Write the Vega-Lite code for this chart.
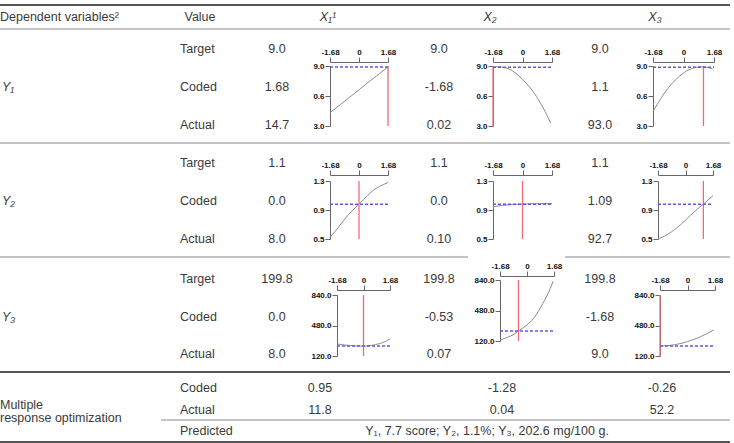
{
  "$schema": "https://vega.github.io/schema/vega-lite/v6.json",
  "width": 734,
  "height": 443,
  "padding": 0,
  "autosize": {"type": "none"},
  "background": "white",
  "config": {
    "view": {"stroke": null},
    "axis": {
      "grid": false,
      "labelFont": "Liberation Sans",
      "labelFontWeight": "bold",
      "labelFontSize": 8,
      "labelColor": "#111111",
      "tickColor": "#666666",
      "domainColor": "#666666",
      "tickSize": 5,
      "labelPadding": 1,
      "labelFlush": false,
      "labelOverlap": false
    },
    "text": {"font": "Liberation Sans", "fontSize": 12.5, "color": "#3a3a3a"}
  },
  "datasets": {
    "rules": [
      {"row": 0, "from": 0, "to": 16, "kind": "border"},
      {"row": 2, "from": 0, "to": 16, "kind": "separator"},
      {"row": 6, "from": 0, "to": 16, "kind": "separator"},
      {"row": 10, "from": 0, "to": 8, "kind": "separator"},
      {"row": 10, "from": 12, "to": 16, "kind": "separator"},
      {"row": 14, "from": 0, "to": 16, "kind": "border"},
      {"row": 17, "from": 1, "to": 16, "kind": "separator"},
      {"row": 19, "from": 0, "to": 16, "kind": "border"}
    ],
    "labelsLeft": [
      {"row": 1, "col": 0, "text": "Dependent variables²"},
      {"row": 3, "col": 2, "text": "Target"},
      {"row": 4, "col": 2, "text": "Coded"},
      {"row": 5, "col": 2, "text": "Actual"},
      {"row": 7, "col": 2, "text": "Target"},
      {"row": 8, "col": 2, "text": "Coded"},
      {"row": 9, "col": 2, "text": "Actual"},
      {"row": 11, "col": 2, "text": "Target"},
      {"row": 12, "col": 2, "text": "Coded"},
      {"row": 13, "col": 2, "text": "Actual"},
      {"row": 15, "col": 2, "text": "Coded"},
      {"row": 16, "col": 2, "text": "Actual"},
      {"row": 18, "col": 2, "text": "Predicted"}
    ],
    "blockLabels": [
      {"row": 16, "col": 0, "text": "Multiple\nresponse optimization"}
    ],
    "responses": [
      {"row": 4, "col": 0, "text": "Y₁"},
      {"row": 8, "col": 0, "text": "Y₂"},
      {"row": 12, "col": 0, "text": "Y₃"}
    ],
    "factors": [
      {"row": 1, "col": 6, "text": "X₁¹"},
      {"row": 1, "col": 10, "text": "X₂"},
      {"row": 1, "col": 14, "text": "X₃"}
    ],
    "cells": [
      {"row": 1, "col": 3, "text": "Value"},
      {"row": 3, "col": 4, "text": "9.0"},
      {"row": 3, "col": 7, "text": "9.0"},
      {"row": 3, "col": 13, "text": "9.0"},
      {"row": 4, "col": 4, "text": "1.68"},
      {"row": 4, "col": 7, "text": "-1.68"},
      {"row": 4, "col": 13, "text": "1.1"},
      {"row": 5, "col": 4, "text": "14.7"},
      {"row": 5, "col": 7, "text": "0.02"},
      {"row": 5, "col": 13, "text": "93.0"},
      {"row": 7, "col": 4, "text": "1.1"},
      {"row": 7, "col": 7, "text": "1.1"},
      {"row": 7, "col": 13, "text": "1.1"},
      {"row": 8, "col": 4, "text": "0.0"},
      {"row": 8, "col": 7, "text": "0.0"},
      {"row": 8, "col": 13, "text": "1.09"},
      {"row": 9, "col": 4, "text": "8.0"},
      {"row": 9, "col": 7, "text": "0.10"},
      {"row": 9, "col": 13, "text": "92.7"},
      {"row": 11, "col": 4, "text": "199.8"},
      {"row": 11, "col": 7, "text": "199.8"},
      {"row": 11, "col": 13, "text": "199.8"},
      {"row": 12, "col": 4, "text": "0.0"},
      {"row": 12, "col": 7, "text": "-0.53"},
      {"row": 12, "col": 13, "text": "-1.68"},
      {"row": 13, "col": 4, "text": "8.0"},
      {"row": 13, "col": 7, "text": "0.07"},
      {"row": 13, "col": 13, "text": "9.0"},
      {"row": 15, "col": 5, "text": "0.95"},
      {"row": 15, "col": 11, "text": "-1.28"},
      {"row": 15, "col": 15, "text": "-0.26"},
      {"row": 16, "col": 5, "text": "11.8"},
      {"row": 16, "col": 11, "text": "0.04"},
      {"row": 16, "col": 15, "text": "52.2"},
      {"row": 18, "col": 9, "text": "Y₁, 7.7 score; Y₂, 1.1%; Y₃, 202.6 mg/100 g."}
    ],
    "curves": [
      {"response": "Y1", "factor": "X1", "series": "curve", "x": -1.68, "y": 4.33},
      {"response": "Y1", "factor": "X1", "series": "curve", "x": -1.2, "y": 4.98},
      {"response": "Y1", "factor": "X1", "series": "curve", "x": -0.6, "y": 5.8},
      {"response": "Y1", "factor": "X1", "series": "curve", "x": 0, "y": 6.62},
      {"response": "Y1", "factor": "X1", "series": "curve", "x": 0.6, "y": 7.45},
      {"response": "Y1", "factor": "X1", "series": "curve", "x": 1.2, "y": 8.25},
      {"response": "Y1", "factor": "X1", "series": "curve", "x": 1.68, "y": 8.9},
      {"response": "Y1", "factor": "X1", "series": "coded", "x": 1.68, "y": 3},
      {"response": "Y1", "factor": "X1", "series": "coded", "x": 1.68, "y": 9},
      {"response": "Y1", "factor": "X1", "series": "predicted", "x": -1.68, "y": 8.9},
      {"response": "Y1", "factor": "X1", "series": "predicted", "x": 1.68, "y": 8.9},

      {"response": "Y1", "factor": "X2", "series": "curve", "x": -1.68, "y": 8.88},
      {"response": "Y1", "factor": "X2", "series": "curve", "x": -1.4, "y": 8.93},
      {"response": "Y1", "factor": "X2", "series": "curve", "x": -1.0, "y": 8.83},
      {"response": "Y1", "factor": "X2", "series": "curve", "x": -0.6, "y": 8.55},
      {"response": "Y1", "factor": "X2", "series": "curve", "x": -0.2, "y": 8.0},
      {"response": "Y1", "factor": "X2", "series": "curve", "x": 0.2, "y": 7.3},
      {"response": "Y1", "factor": "X2", "series": "curve", "x": 0.6, "y": 6.45},
      {"response": "Y1", "factor": "X2", "series": "curve", "x": 1.0, "y": 5.36},
      {"response": "Y1", "factor": "X2", "series": "curve", "x": 1.3, "y": 4.41},
      {"response": "Y1", "factor": "X2", "series": "curve", "x": 1.6, "y": 3.3},
      {"response": "Y1", "factor": "X2", "series": "coded", "x": -1.68, "y": 3},
      {"response": "Y1", "factor": "X2", "series": "coded", "x": -1.68, "y": 9},
      {"response": "Y1", "factor": "X2", "series": "predicted", "x": -1.68, "y": 8.88},
      {"response": "Y1", "factor": "X2", "series": "predicted", "x": 1.68, "y": 8.88},

      {"response": "Y1", "factor": "X3", "series": "curve", "x": -1.68, "y": 4.45},
      {"response": "Y1", "factor": "X3", "series": "curve", "x": -1.2, "y": 5.88},
      {"response": "Y1", "factor": "X3", "series": "curve", "x": -0.7, "y": 7.11},
      {"response": "Y1", "factor": "X3", "series": "curve", "x": -0.2, "y": 8.02},
      {"response": "Y1", "factor": "X3", "series": "curve", "x": 0.3, "y": 8.62},
      {"response": "Y1", "factor": "X3", "series": "curve", "x": 0.7, "y": 8.87},
      {"response": "Y1", "factor": "X3", "series": "curve", "x": 1.0, "y": 8.93},
      {"response": "Y1", "factor": "X3", "series": "curve", "x": 1.3, "y": 8.87},
      {"response": "Y1", "factor": "X3", "series": "curve", "x": 1.6, "y": 8.7},
      {"response": "Y1", "factor": "X3", "series": "coded", "x": 1.1, "y": 3},
      {"response": "Y1", "factor": "X3", "series": "coded", "x": 1.1, "y": 9},
      {"response": "Y1", "factor": "X3", "series": "predicted", "x": -1.68, "y": 8.88},
      {"response": "Y1", "factor": "X3", "series": "predicted", "x": 1.68, "y": 8.88},

      {"response": "Y2", "factor": "X1", "series": "curve", "x": -1.68, "y": 0.52},
      {"response": "Y2", "factor": "X1", "series": "curve", "x": -1.2, "y": 0.66},
      {"response": "Y2", "factor": "X1", "series": "curve", "x": -0.6, "y": 0.84},
      {"response": "Y2", "factor": "X1", "series": "curve", "x": 0, "y": 0.98},
      {"response": "Y2", "factor": "X1", "series": "curve", "x": 0.5, "y": 1.1},
      {"response": "Y2", "factor": "X1", "series": "curve", "x": 1.0, "y": 1.2},
      {"response": "Y2", "factor": "X1", "series": "curve", "x": 1.4, "y": 1.25},
      {"response": "Y2", "factor": "X1", "series": "curve", "x": 1.68, "y": 1.28},
      {"response": "Y2", "factor": "X1", "series": "coded", "x": 0, "y": 0.5},
      {"response": "Y2", "factor": "X1", "series": "coded", "x": 0, "y": 1.3},
      {"response": "Y2", "factor": "X1", "series": "predicted", "x": -1.68, "y": 0.98},
      {"response": "Y2", "factor": "X1", "series": "predicted", "x": 1.68, "y": 0.98},

      {"response": "Y2", "factor": "X2", "series": "curve", "x": -1.68, "y": 0.945},
      {"response": "Y2", "factor": "X2", "series": "curve", "x": -1.2, "y": 0.962},
      {"response": "Y2", "factor": "X2", "series": "curve", "x": -0.6, "y": 0.975},
      {"response": "Y2", "factor": "X2", "series": "curve", "x": 0, "y": 0.982},
      {"response": "Y2", "factor": "X2", "series": "curve", "x": 0.6, "y": 0.986},
      {"response": "Y2", "factor": "X2", "series": "curve", "x": 1.2, "y": 0.988},
      {"response": "Y2", "factor": "X2", "series": "curve", "x": 1.68, "y": 0.988},
      {"response": "Y2", "factor": "X2", "series": "coded", "x": 0, "y": 0.5},
      {"response": "Y2", "factor": "X2", "series": "coded", "x": 0, "y": 1.3},
      {"response": "Y2", "factor": "X2", "series": "predicted", "x": -1.68, "y": 0.98},
      {"response": "Y2", "factor": "X2", "series": "predicted", "x": 1.68, "y": 0.98},

      {"response": "Y2", "factor": "X3", "series": "curve", "x": -1.68, "y": 0.5},
      {"response": "Y2", "factor": "X3", "series": "curve", "x": -1.2, "y": 0.55},
      {"response": "Y2", "factor": "X3", "series": "curve", "x": -0.6, "y": 0.64},
      {"response": "Y2", "factor": "X3", "series": "curve", "x": 0, "y": 0.76},
      {"response": "Y2", "factor": "X3", "series": "curve", "x": 0.6, "y": 0.89},
      {"response": "Y2", "factor": "X3", "series": "curve", "x": 1.09, "y": 0.98},
      {"response": "Y2", "factor": "X3", "series": "curve", "x": 1.68, "y": 1.1},
      {"response": "Y2", "factor": "X3", "series": "coded", "x": 1.09, "y": 0.5},
      {"response": "Y2", "factor": "X3", "series": "coded", "x": 1.09, "y": 1.3},
      {"response": "Y2", "factor": "X3", "series": "predicted", "x": -1.68, "y": 0.98},
      {"response": "Y2", "factor": "X3", "series": "predicted", "x": 1.68, "y": 0.98},

      {"response": "Y3", "factor": "X1", "series": "curve", "x": -1.68, "y": 262},
      {"response": "Y3", "factor": "X1", "series": "curve", "x": -1.2, "y": 250},
      {"response": "Y3", "factor": "X1", "series": "curve", "x": -0.6, "y": 240},
      {"response": "Y3", "factor": "X1", "series": "curve", "x": 0, "y": 236},
      {"response": "Y3", "factor": "X1", "series": "curve", "x": 0.5, "y": 245},
      {"response": "Y3", "factor": "X1", "series": "curve", "x": 1.0, "y": 266},
      {"response": "Y3", "factor": "X1", "series": "curve", "x": 1.4, "y": 292},
      {"response": "Y3", "factor": "X1", "series": "curve", "x": 1.68, "y": 321},
      {"response": "Y3", "factor": "X1", "series": "coded", "x": 0, "y": 120},
      {"response": "Y3", "factor": "X1", "series": "coded", "x": 0, "y": 840},
      {"response": "Y3", "factor": "X1", "series": "predicted", "x": -1.68, "y": 238},
      {"response": "Y3", "factor": "X1", "series": "predicted", "x": 1.68, "y": 238},

      {"response": "Y3", "factor": "X2", "series": "curve", "x": -1.68, "y": 130},
      {"response": "Y3", "factor": "X2", "series": "curve", "x": -1.2, "y": 165},
      {"response": "Y3", "factor": "X2", "series": "curve", "x": -0.85, "y": 195},
      {"response": "Y3", "factor": "X2", "series": "curve", "x": -0.53, "y": 238},
      {"response": "Y3", "factor": "X2", "series": "curve", "x": 0, "y": 310},
      {"response": "Y3", "factor": "X2", "series": "curve", "x": 0.4, "y": 385},
      {"response": "Y3", "factor": "X2", "series": "curve", "x": 0.8, "y": 500},
      {"response": "Y3", "factor": "X2", "series": "curve", "x": 1.2, "y": 640},
      {"response": "Y3", "factor": "X2", "series": "curve", "x": 1.45, "y": 740},
      {"response": "Y3", "factor": "X2", "series": "curve", "x": 1.62, "y": 825},
      {"response": "Y3", "factor": "X2", "series": "coded", "x": -0.53, "y": 120},
      {"response": "Y3", "factor": "X2", "series": "coded", "x": -0.53, "y": 840},
      {"response": "Y3", "factor": "X2", "series": "predicted", "x": -1.68, "y": 238},
      {"response": "Y3", "factor": "X2", "series": "predicted", "x": 1.68, "y": 238},

      {"response": "Y3", "factor": "X3", "series": "curve", "x": -1.68, "y": 238},
      {"response": "Y3", "factor": "X3", "series": "curve", "x": -1.2, "y": 243},
      {"response": "Y3", "factor": "X3", "series": "curve", "x": -0.8, "y": 252},
      {"response": "Y3", "factor": "X3", "series": "curve", "x": -0.4, "y": 268},
      {"response": "Y3", "factor": "X3", "series": "curve", "x": 0, "y": 290},
      {"response": "Y3", "factor": "X3", "series": "curve", "x": 0.4, "y": 316},
      {"response": "Y3", "factor": "X3", "series": "curve", "x": 0.8, "y": 348},
      {"response": "Y3", "factor": "X3", "series": "curve", "x": 1.2, "y": 385},
      {"response": "Y3", "factor": "X3", "series": "curve", "x": 1.6, "y": 427},
      {"response": "Y3", "factor": "X3", "series": "coded", "x": -1.68, "y": 120},
      {"response": "Y3", "factor": "X3", "series": "coded", "x": -1.68, "y": 840},
      {"response": "Y3", "factor": "X3", "series": "predicted", "x": -1.68, "y": 238},
      {"response": "Y3", "factor": "X3", "series": "predicted", "x": 1.68, "y": 238}
    ]
  },
  "resolve": {"scale": {"x": "independent", "y": "independent"}},
  "layer": [
    {
      "data": {"name": "rules"},
      "transform": [{"filter": "datum.kind == 'border'"}],
      "mark": {"type": "rule", "color": "#555555", "strokeWidth": 2},
      "encoding": {
        "x": {"field": "from", "type": "quantitative", "axis": null,
              "scale": {"domain": [0,1,2,3,4,5,6,7,8,9,10,11,12,13,14,15,16], "range": [0,161,180,200,277,320,328,439,468,487,490,502,565,600,655,662,730], "nice": false, "zero": false}},
        "x2": {"field": "to"},
        "y": {"field": "row", "type": "quantitative", "axis": null,
              "scale": {"domain": [0,1,2,3,4,5,6,7,8,9,10,11,12,13,14,15,16,17,18,19], "range": [5,17,29,49,87,125,143,163,201,239,257,279,317,354,372,388,410,420,431,442], "nice": false, "zero": false}}
      }
    },
    {
      "data": {"name": "rules"},
      "transform": [{"filter": "datum.kind == 'separator'"}],
      "mark": {"type": "rule", "color": "#8a8a8a", "strokeWidth": 1},
      "encoding": {
        "x": {"field": "from", "type": "quantitative", "axis": null,
              "scale": {"domain": [0,1,2,3,4,5,6,7,8,9,10,11,12,13,14,15,16], "range": [0,161,180,200,277,320,328,439,468,487,490,502,565,600,655,662,730], "nice": false, "zero": false}},
        "x2": {"field": "to"},
        "y": {"field": "row", "type": "quantitative", "axis": null,
              "scale": {"domain": [0,1,2,3,4,5,6,7,8,9,10,11,12,13,14,15,16,17,18,19], "range": [5,17,29,49,87,125,143,163,201,239,257,279,317,354,372,388,410,420,431,442], "nice": false, "zero": false}}
      }
    },
    {
      "data": {"name": "labelsLeft"},
      "mark": {"type": "text", "align": "left", "baseline": "middle"},
      "encoding": {
        "x": {"field": "col", "type": "quantitative", "axis": null,
              "scale": {"domain": [0,1,2,3,4,5,6,7,8,9,10,11,12,13,14,15,16], "range": [0,161,180,200,277,320,328,439,468,487,490,502,565,600,655,662,730], "nice": false, "zero": false}},
        "y": {"field": "row", "type": "quantitative", "axis": null,
              "scale": {"domain": [0,1,2,3,4,5,6,7,8,9,10,11,12,13,14,15,16,17,18,19], "range": [5,17,29,49,87,125,143,163,201,239,257,279,317,354,372,388,410,420,431,442], "nice": false, "zero": false}},
        "text": {"field": "text", "type": "nominal"}
      }
    },
    {
      "data": {"name": "blockLabels"},
      "mark": {"type": "text", "align": "left", "baseline": "middle", "lineBreak": "\n", "lineHeight": 13, "dy": -5},
      "encoding": {
        "x": {"field": "col", "type": "quantitative", "axis": null,
              "scale": {"domain": [0,1,2,3,4,5,6,7,8,9,10,11,12,13,14,15,16], "range": [0,161,180,200,277,320,328,439,468,487,490,502,565,600,655,662,730], "nice": false, "zero": false}},
        "y": {"field": "row", "type": "quantitative", "axis": null,
              "scale": {"domain": [0,1,2,3,4,5,6,7,8,9,10,11,12,13,14,15,16,17,18,19], "range": [5,17,29,49,87,125,143,163,201,239,257,279,317,354,372,388,410,420,431,442], "nice": false, "zero": false}},
        "text": {"field": "text", "type": "nominal"}
      }
    },
    {
      "data": {"name": "responses"},
      "mark": {"type": "text", "align": "left", "baseline": "middle", "fontStyle": "italic", "dx": 2},
      "encoding": {
        "x": {"field": "col", "type": "quantitative", "axis": null,
              "scale": {"domain": [0,1,2,3,4,5,6,7,8,9,10,11,12,13,14,15,16], "range": [0,161,180,200,277,320,328,439,468,487,490,502,565,600,655,662,730], "nice": false, "zero": false}},
        "y": {"field": "row", "type": "quantitative", "axis": null,
              "scale": {"domain": [0,1,2,3,4,5,6,7,8,9,10,11,12,13,14,15,16,17,18,19], "range": [5,17,29,49,87,125,143,163,201,239,257,279,317,354,372,388,410,420,431,442], "nice": false, "zero": false}},
        "text": {"field": "text", "type": "nominal"}
      }
    },
    {
      "data": {"name": "cells"},
      "mark": {"type": "text", "align": "center", "baseline": "middle"},
      "encoding": {
        "x": {"field": "col", "type": "quantitative", "axis": null,
              "scale": {"domain": [0,1,2,3,4,5,6,7,8,9,10,11,12,13,14,15,16], "range": [0,161,180,200,277,320,328,439,468,487,490,502,565,600,655,662,730], "nice": false, "zero": false}},
        "y": {"field": "row", "type": "quantitative", "axis": null,
              "scale": {"domain": [0,1,2,3,4,5,6,7,8,9,10,11,12,13,14,15,16,17,18,19], "range": [5,17,29,49,87,125,143,163,201,239,257,279,317,354,372,388,410,420,431,442], "nice": false, "zero": false}},
        "text": {"field": "text", "type": "nominal"}
      }
    },
    {
      "data": {"name": "factors"},
      "mark": {"type": "text", "align": "center", "baseline": "middle", "fontStyle": "italic"},
      "encoding": {
        "x": {"field": "col", "type": "quantitative", "axis": null,
              "scale": {"domain": [0,1,2,3,4,5,6,7,8,9,10,11,12,13,14,15,16], "range": [0,161,180,200,277,320,328,439,468,487,490,502,565,600,655,662,730], "nice": false, "zero": false}},
        "y": {"field": "row", "type": "quantitative", "axis": null,
              "scale": {"domain": [0,1,2,3,4,5,6,7,8,9,10,11,12,13,14,15,16,17,18,19], "range": [5,17,29,49,87,125,143,163,201,239,257,279,317,354,372,388,410,420,431,442], "nice": false, "zero": false}},
        "text": {"field": "text", "type": "nominal"}
      }
    },
    {
      "data": {"name": "curves"},
      "transform": [{"filter": "datum.response == 'Y1' && datum.factor == 'X1'"}],
      "mark": {"type": "line", "interpolate": "monotone"},
      "encoding": {
        "x": {"field": "x", "type": "quantitative", "scale": {"domain": [-1.68, 1.68], "range": [330, 388], "nice": false, "zero": false},
              "axis": {"orient": "top", "offset": -62, "values": [-1.68, 0, 1.68], "format": ".2~f", "labelExpr": "replace(datum.label, '−', '-')", "title": null}},
        "y": {"field": "y", "type": "quantitative", "scale": {"domain": [3, 9], "range": [126, 66], "nice": false, "zero": false},
              "axis": {"orient": "left", "offset": -330, "values": [3, 6, 9], "format": ".1f", "labelExpr": "datum.value == 6 ? '0.6' : datum.label", "title": null}},
        "color": {"field": "series", "type": "nominal", "legend": null, "scale": {"domain": ["curve", "coded", "predicted"], "range": ["#8c8c8c", "#f26b73", "#5a5ae8"]}},
        "strokeWidth": {"field": "series", "type": "nominal", "legend": null, "scale": {"domain": ["curve", "coded", "predicted"], "range": [1, 1.6, 1]}},
        "strokeDash": {"field": "series", "type": "nominal", "legend": null, "scale": {"domain": ["curve", "coded", "predicted"], "range": [[100, 0], [100, 0], [3, 2]]}}
      }
    },
    {
      "data": {"name": "curves"},
      "transform": [{"filter": "datum.response == 'Y1' && datum.factor == 'X2'"}],
      "mark": {"type": "line", "interpolate": "monotone"},
      "encoding": {
        "x": {"field": "x", "type": "quantitative", "scale": {"domain": [-1.68, 1.68], "range": [493, 552], "nice": false, "zero": false},
              "axis": {"orient": "top", "offset": -62, "values": [-1.68, 0, 1.68], "format": ".2~f", "labelExpr": "replace(datum.label, '−', '-')", "title": null}},
        "y": {"field": "y", "type": "quantitative", "scale": {"domain": [3, 9], "range": [126, 66], "nice": false, "zero": false},
              "axis": {"orient": "left", "offset": -493, "values": [3, 6, 9], "format": ".1f", "labelExpr": "datum.value == 6 ? '0.6' : datum.label", "title": null}},
        "color": {"field": "series", "type": "nominal", "legend": null, "scale": {"domain": ["curve", "coded", "predicted"], "range": ["#8c8c8c", "#f26b73", "#5a5ae8"]}},
        "strokeWidth": {"field": "series", "type": "nominal", "legend": null, "scale": {"domain": ["curve", "coded", "predicted"], "range": [1, 1.6, 1]}},
        "strokeDash": {"field": "series", "type": "nominal", "legend": null, "scale": {"domain": ["curve", "coded", "predicted"], "range": [[100, 0], [100, 0], [3, 2]]}}
      }
    },
    {
      "data": {"name": "curves"},
      "transform": [{"filter": "datum.response == 'Y1' && datum.factor == 'X3'"}],
      "mark": {"type": "line", "interpolate": "monotone"},
      "encoding": {
        "x": {"field": "x", "type": "quantitative", "scale": {"domain": [-1.68, 1.68], "range": [653, 714], "nice": false, "zero": false},
              "axis": {"orient": "top", "offset": -62, "values": [-1.68, 0, 1.68], "format": ".2~f", "labelExpr": "replace(datum.label, '−', '-')", "title": null}},
        "y": {"field": "y", "type": "quantitative", "scale": {"domain": [3, 9], "range": [126, 66], "nice": false, "zero": false},
              "axis": {"orient": "left", "offset": -653, "values": [3, 6, 9], "format": ".1f", "labelExpr": "datum.value == 6 ? '0.6' : datum.label", "title": null}},
        "color": {"field": "series", "type": "nominal", "legend": null, "scale": {"domain": ["curve", "coded", "predicted"], "range": ["#8c8c8c", "#f26b73", "#5a5ae8"]}},
        "strokeWidth": {"field": "series", "type": "nominal", "legend": null, "scale": {"domain": ["curve", "coded", "predicted"], "range": [1, 1.6, 1]}},
        "strokeDash": {"field": "series", "type": "nominal", "legend": null, "scale": {"domain": ["curve", "coded", "predicted"], "range": [[100, 0], [100, 0], [3, 2]]}}
      }
    },
    {
      "data": {"name": "curves"},
      "transform": [{"filter": "datum.response == 'Y2' && datum.factor == 'X1'"}],
      "mark": {"type": "line", "interpolate": "monotone"},
      "encoding": {
        "x": {"field": "x", "type": "quantitative", "scale": {"domain": [-1.68, 1.68], "range": [330, 388], "nice": false, "zero": false},
              "axis": {"orient": "top", "offset": -175, "values": [-1.68, 0, 1.68], "format": ".2~f", "labelExpr": "replace(datum.label, '−', '-')", "title": null}},
        "y": {"field": "y", "type": "quantitative", "scale": {"domain": [0.5, 1.3], "range": [239, 181], "nice": false, "zero": false},
              "axis": {"orient": "left", "offset": -330, "values": [0.5, 0.9, 1.3], "format": ".1f", "title": null}},
        "color": {"field": "series", "type": "nominal", "legend": null, "scale": {"domain": ["curve", "coded", "predicted"], "range": ["#8c8c8c", "#f26b73", "#5a5ae8"]}},
        "strokeWidth": {"field": "series", "type": "nominal", "legend": null, "scale": {"domain": ["curve", "coded", "predicted"], "range": [1, 1.6, 1]}},
        "strokeDash": {"field": "series", "type": "nominal", "legend": null, "scale": {"domain": ["curve", "coded", "predicted"], "range": [[100, 0], [100, 0], [3, 2]]}}
      }
    },
    {
      "data": {"name": "curves"},
      "transform": [{"filter": "datum.response == 'Y2' && datum.factor == 'X2'"}],
      "mark": {"type": "line", "interpolate": "monotone"},
      "encoding": {
        "x": {"field": "x", "type": "quantitative", "scale": {"domain": [-1.68, 1.68], "range": [493, 552], "nice": false, "zero": false},
              "axis": {"orient": "top", "offset": -175, "values": [-1.68, 0, 1.68], "format": ".2~f", "labelExpr": "replace(datum.label, '−', '-')", "title": null}},
        "y": {"field": "y", "type": "quantitative", "scale": {"domain": [0.5, 1.3], "range": [239, 181], "nice": false, "zero": false},
              "axis": {"orient": "left", "offset": -493, "values": [0.5, 0.9, 1.3], "format": ".1f", "title": null}},
        "color": {"field": "series", "type": "nominal", "legend": null, "scale": {"domain": ["curve", "coded", "predicted"], "range": ["#8c8c8c", "#f26b73", "#5a5ae8"]}},
        "strokeWidth": {"field": "series", "type": "nominal", "legend": null, "scale": {"domain": ["curve", "coded", "predicted"], "range": [1, 1.6, 1]}},
        "strokeDash": {"field": "series", "type": "nominal", "legend": null, "scale": {"domain": ["curve", "coded", "predicted"], "range": [[100, 0], [100, 0], [3, 2]]}}
      }
    },
    {
      "data": {"name": "curves"},
      "transform": [{"filter": "datum.response == 'Y2' && datum.factor == 'X3'"}],
      "mark": {"type": "line", "interpolate": "monotone"},
      "encoding": {
        "x": {"field": "x", "type": "quantitative", "scale": {"domain": [-1.68, 1.68], "range": [658, 713], "nice": false, "zero": false},
              "axis": {"orient": "top", "offset": -175, "values": [-1.68, 0, 1.68], "format": ".2~f", "labelExpr": "replace(datum.label, '−', '-')", "title": null}},
        "y": {"field": "y", "type": "quantitative", "scale": {"domain": [0.5, 1.3], "range": [239, 181], "nice": false, "zero": false},
              "axis": {"orient": "left", "offset": -658, "values": [0.5, 0.9, 1.3], "format": ".1f", "title": null}},
        "color": {"field": "series", "type": "nominal", "legend": null, "scale": {"domain": ["curve", "coded", "predicted"], "range": ["#8c8c8c", "#f26b73", "#5a5ae8"]}},
        "strokeWidth": {"field": "series", "type": "nominal", "legend": null, "scale": {"domain": ["curve", "coded", "predicted"], "range": [1, 1.6, 1]}},
        "strokeDash": {"field": "series", "type": "nominal", "legend": null, "scale": {"domain": ["curve", "coded", "predicted"], "range": [[100, 0], [100, 0], [3, 2]]}}
      }
    },
    {
      "data": {"name": "curves"},
      "transform": [{"filter": "datum.response == 'Y3' && datum.factor == 'X1'"}],
      "mark": {"type": "line", "interpolate": "monotone"},
      "encoding": {
        "x": {"field": "x", "type": "quantitative", "scale": {"domain": [-1.68, 1.68], "range": [337, 390], "nice": false, "zero": false},
              "axis": {"orient": "top", "offset": -290, "values": [-1.68, 0, 1.68], "format": ".2~f", "labelExpr": "replace(datum.label, '−', '-')", "title": null}},
        "y": {"field": "y", "type": "quantitative", "scale": {"domain": [120, 840], "range": [356, 295], "nice": false, "zero": false},
              "axis": {"orient": "left", "offset": -337, "values": [120, 480, 840], "format": ".1f", "title": null}},
        "color": {"field": "series", "type": "nominal", "legend": null, "scale": {"domain": ["curve", "coded", "predicted"], "range": ["#8c8c8c", "#f26b73", "#5a5ae8"]}},
        "strokeWidth": {"field": "series", "type": "nominal", "legend": null, "scale": {"domain": ["curve", "coded", "predicted"], "range": [1, 1.6, 1]}},
        "strokeDash": {"field": "series", "type": "nominal", "legend": null, "scale": {"domain": ["curve", "coded", "predicted"], "range": [[100, 0], [100, 0], [3, 2]]}}
      }
    },
    {
      "data": {"name": "curves"},
      "transform": [{"filter": "datum.response == 'Y3' && datum.factor == 'X2'"}],
      "mark": {"type": "line", "interpolate": "monotone"},
      "encoding": {
        "x": {"field": "x", "type": "quantitative", "scale": {"domain": [-1.68, 1.68], "range": [500, 554], "nice": false, "zero": false},
              "axis": {"orient": "top", "offset": -276, "values": [-1.68, 0, 1.68], "format": ".2~f", "labelExpr": "replace(datum.label, '−', '-')", "title": null}},
        "y": {"field": "y", "type": "quantitative", "scale": {"domain": [120, 840], "range": [341, 280], "nice": false, "zero": false},
              "axis": {"orient": "left", "offset": -500, "values": [120, 480, 840], "format": ".1f", "title": null}},
        "color": {"field": "series", "type": "nominal", "legend": null, "scale": {"domain": ["curve", "coded", "predicted"], "range": ["#8c8c8c", "#f26b73", "#5a5ae8"]}},
        "strokeWidth": {"field": "series", "type": "nominal", "legend": null, "scale": {"domain": ["curve", "coded", "predicted"], "range": [1, 1.6, 1]}},
        "strokeDash": {"field": "series", "type": "nominal", "legend": null, "scale": {"domain": ["curve", "coded", "predicted"], "range": [[100, 0], [100, 0], [3, 2]]}}
      }
    },
    {
      "data": {"name": "curves"},
      "transform": [{"filter": "datum.response == 'Y3' && datum.factor == 'X3'"}],
      "mark": {"type": "line", "interpolate": "monotone"},
      "encoding": {
        "x": {"field": "x", "type": "quantitative", "scale": {"domain": [-1.68, 1.68], "range": [660, 715], "nice": false, "zero": false},
              "axis": {"orient": "top", "offset": -290, "values": [-1.68, 0, 1.68], "format": ".2~f", "labelExpr": "replace(datum.label, '−', '-')", "title": null}},
        "y": {"field": "y", "type": "quantitative", "scale": {"domain": [120, 840], "range": [356, 295], "nice": false, "zero": false},
              "axis": {"orient": "left", "offset": -660, "values": [120, 480, 840], "format": ".1f", "title": null}},
        "color": {"field": "series", "type": "nominal", "legend": null, "scale": {"domain": ["curve", "coded", "predicted"], "range": ["#8c8c8c", "#f26b73", "#5a5ae8"]}},
        "strokeWidth": {"field": "series", "type": "nominal", "legend": null, "scale": {"domain": ["curve", "coded", "predicted"], "range": [1, 1.6, 1]}},
        "strokeDash": {"field": "series", "type": "nominal", "legend": null, "scale": {"domain": ["curve", "coded", "predicted"], "range": [[100, 0], [100, 0], [3, 2]]}}
      }
    }
  ]
}
